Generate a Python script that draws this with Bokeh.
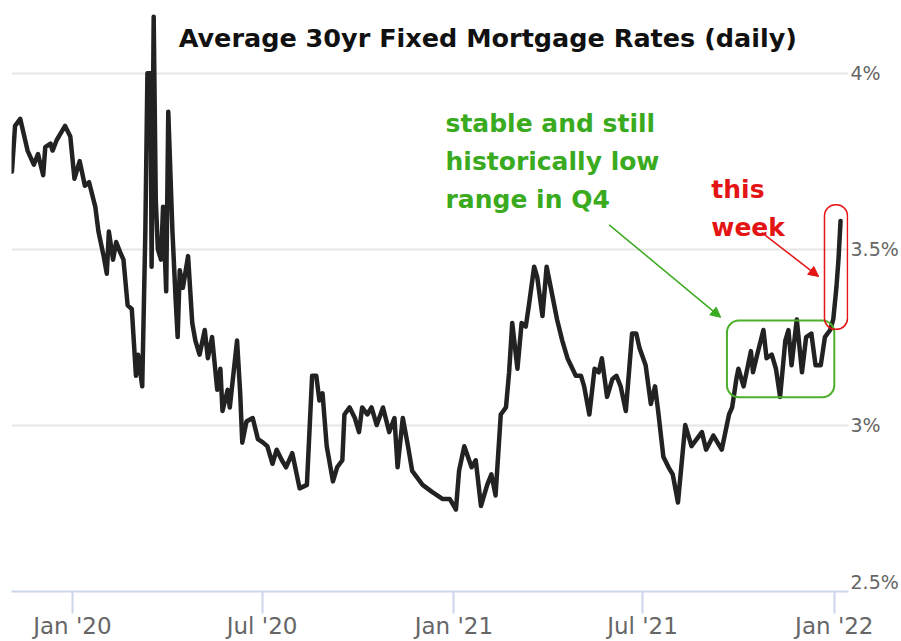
import pandas as pd
from bokeh.plotting import figure
from bokeh.models import (FixedTicker, Label, BoxAnnotation, Arrow, NormalHead,
                          Range1d, ColumnDataSource)
from bokeh.embed import file_html
from bokeh.resources import INLINE

# ---- data ----
dates = [
    "2019-11-04", "2019-11-07", "2019-11-12", "2019-11-19", "2019-11-25", "2019-11-29",
    "2019-12-04", "2019-12-06", "2019-12-11", "2019-12-13", "2019-12-17", "2019-12-21",
    "2019-12-25", "2019-12-30", "2020-01-03", "2020-01-08", "2020-01-13", "2020-01-17",
    "2020-01-23", "2020-01-26", "2020-01-31", "2020-02-03", "2020-02-05", "2020-02-09",
    "2020-02-12", "2020-02-16", "2020-02-19", "2020-02-23", "2020-02-27", "2020-03-02",
    "2020-03-04", "2020-03-08", "2020-03-11", "2020-03-13", "2020-03-16", "2020-03-17",
    "2020-03-19", "2020-03-21", "2020-03-23", "2020-03-26", "2020-03-28", "2020-03-31",
    "2020-04-02", "2020-04-06", "2020-04-09", "2020-04-11", "2020-04-13", "2020-04-16",
    "2020-04-21", "2020-04-25", "2020-04-28", "2020-05-02", "2020-05-07", "2020-05-10",
    "2020-05-14", "2020-05-19", "2020-05-22", "2020-05-24", "2020-05-29", "2020-05-31",
    "2020-06-07", "2020-06-10", "2020-06-12", "2020-06-16", "2020-06-22", "2020-06-27",
    "2020-07-02", "2020-07-06", "2020-07-11", "2020-07-15", "2020-07-20", "2020-07-24",
    "2020-07-30", "2020-08-06", "2020-08-13", "2020-08-18", "2020-08-22", "2020-08-25",
    "2020-08-28", "2020-09-01", "2020-09-07", "2020-09-11", "2020-09-16", "2020-09-18",
    "2020-09-23", "2020-09-28", "2020-10-02", "2020-10-05", "2020-10-10", "2020-10-14",
    "2020-10-19", "2020-10-25", "2020-10-31", "2020-11-05", "2020-11-08", "2020-11-13",
    "2020-11-18", "2020-11-22", "2020-12-02", "2020-12-11", "2020-12-21", "2020-12-28",
    "2021-01-03", "2021-01-06", "2021-01-11", "2021-01-18", "2021-01-22", "2021-01-27",
    "2021-02-02", "2021-02-06", "2021-02-10", "2021-02-15", "2021-02-20", "2021-02-23",
    "2021-02-26", "2021-03-03", "2021-03-07", "2021-03-11", "2021-03-14", "2021-03-19",
    "2021-03-22", "2021-03-27", "2021-03-31", "2021-04-04", "2021-04-10", "2021-04-15",
    "2021-04-20", "2021-04-28", "2021-05-03", "2021-05-06", "2021-05-11", "2021-05-16",
    "2021-05-20", "2021-05-23", "2021-05-28", "2021-06-02", "2021-06-06", "2021-06-10",
    "2021-06-15", "2021-06-21", "2021-06-25", "2021-06-28", "2021-07-04", "2021-07-09",
    "2021-07-13", "2021-07-16", "2021-07-21", "2021-07-26", "2021-07-30", "2021-08-04",
    "2021-08-11", "2021-08-17", "2021-08-22", "2021-08-27", "2021-08-31", "2021-09-07",
    "2021-09-15", "2021-09-22", "2021-09-25", "2021-09-29", "2021-10-01", "2021-10-06",
    "2021-10-13", "2021-10-15", "2021-10-19", "2021-10-25", "2021-10-28", "2021-11-02",
    "2021-11-06", "2021-11-10", "2021-11-15", "2021-11-18", "2021-11-21", "2021-11-26",
    "2021-12-01", "2021-12-05", "2021-12-10", "2021-12-14", "2021-12-19", "2021-12-23",
    "2021-12-28", "2021-12-31", "2022-01-03", "2022-01-05", "2022-01-07",
]
rates = [
    3.72, 3.85, 3.87, 3.78, 3.74, 3.77,
    3.71, 3.79, 3.80, 3.78, 3.81, 3.83,
    3.85, 3.82, 3.70, 3.75, 3.68, 3.69,
    3.62, 3.55, 3.48, 3.43, 3.55, 3.47,
    3.52, 3.49, 3.47, 3.34, 3.33, 3.14,
    3.20, 3.11, 3.55, 4.00, 4.00, 3.45,
    4.16, 3.64, 3.50, 3.47, 3.62, 3.38,
    3.89, 3.55, 3.36, 3.25, 3.44, 3.39,
    3.48, 3.29, 3.24, 3.20, 3.27, 3.19,
    3.25, 3.10, 3.16, 3.04, 3.10, 3.05,
    3.24, 3.09, 2.95, 3.01, 3.02, 2.96,
    2.95, 2.94, 2.89, 2.93, 2.90, 2.88,
    2.92, 2.82, 2.83, 3.14, 3.14, 3.07,
    3.09, 2.94, 2.84, 2.88, 2.90, 3.03,
    3.05, 3.02, 2.98, 3.05, 3.03, 3.05,
    3.00, 3.05, 2.98, 3.02, 2.88, 3.02,
    2.94, 2.87, 2.83, 2.81, 2.79, 2.79,
    2.76, 2.87, 2.94, 2.88, 2.90, 2.77,
    2.83, 2.86, 2.80, 3.03, 3.05, 3.15,
    3.29, 3.16, 3.29, 3.28, 3.34, 3.45,
    3.42, 3.31, 3.45, 3.39, 3.30, 3.24,
    3.19, 3.14, 3.14, 3.11, 3.03, 3.16,
    3.15, 3.19, 3.08, 3.13, 3.14, 3.11,
    3.04, 3.26, 3.26, 3.22, 3.17, 3.06,
    3.11, 3.04, 2.91, 2.88, 2.86, 2.78,
    3.00, 2.94, 2.96, 2.98, 2.93, 2.97,
    2.93, 3.03, 3.05, 3.13, 3.16, 3.11,
    3.21, 3.15, 3.20, 3.27, 3.19, 3.20,
    3.16, 3.08, 3.24, 3.27, 3.17, 3.30,
    3.15, 3.25, 3.26, 3.17, 3.17, 3.25,
    3.27, 3.30, 3.39, 3.47, 3.58,
]

x_tick_dates = ["2020-01-01", "2020-07-01", "2021-01-01", "2021-07-01", "2022-01-01"]
x_tick_labels = ["Jan '20", "Jul '20", "Jan '21", "Jul '21", "Jan '22"]
y_ticks = [2.5, 3.0, 3.5, 4.0]
y_tick_labels = ["2.5%", "3%", "3.5%", "4%"]

title_text = "Average 30yr Fixed Mortgage Rates (daily)"
green_lines = ["stable and still", "historically low", "range in Q4"]
red_lines = ["this", "week"]


def ms(s):
    return pd.Timestamp(s).value / 1e6


X_START, X_END = "2019-11-03 14:00", "2022-01-14 15:00"
Y_START, Y_END = 2.527, 4.178
LOW_LABEL_AT = 2.555   # where the lowest tick label is drawn (its own level is below the frame)

GREEN = "#3aaa1e"
RED = "#e41414"
FONT = "DejaVu Sans"

p = figure(width=901, height=641, x_axis_type="datetime", y_axis_location="right",
           x_range=Range1d(ms(X_START), ms(X_END)), y_range=Range1d(Y_START, Y_END),
           output_backend="svg", toolbar_location=None,
           min_border_left=11, min_border_top=10, min_border_right=51, min_border_bottom=48)
p.outline_line_color = None
p.background_fill_color = "white"
p.border_fill_color = "white"

src = ColumnDataSource(dict(date=pd.to_datetime(dates), rate=rates))
p.line("date", "rate", source=src, line_color="#222222", line_width=4.5,
       line_join="round", line_cap="round")

# x axis
p.xaxis.ticker = FixedTicker(ticks=[ms(d) for d in x_tick_dates])
p.xaxis.major_label_overrides = {ms(d): l for d, l in zip(x_tick_dates, x_tick_labels)}
p.xaxis.axis_line_color = "#ccd6eb"
p.xaxis.axis_line_width = 2
p.xaxis.major_tick_line_color = "#ccd6eb"
p.xaxis.major_tick_line_width = 2
p.xaxis.major_tick_out = 22
p.xaxis.major_tick_in = 0
p.xaxis.minor_tick_line_color = None
p.xaxis.major_label_standoff = -1
p.xaxis.major_label_text_font = FONT
p.xaxis.major_label_text_font_size = "23px"
p.xaxis.major_label_text_color = "#666666"

# y axis (right)
axis_ticks = [t if t >= Y_START else LOW_LABEL_AT for t in y_ticks]
p.yaxis.ticker = FixedTicker(ticks=axis_ticks)
p.yaxis.major_label_overrides = dict(zip(axis_ticks, y_tick_labels))
p.yaxis.axis_line_color = None
p.yaxis.major_tick_line_color = None
p.yaxis.minor_tick_line_color = None
p.yaxis.major_tick_out = 0
p.yaxis.major_tick_in = 0
p.yaxis.major_label_standoff = 2
p.yaxis.major_label_text_font = FONT
p.yaxis.major_label_text_font_size = "19px"
p.yaxis.major_label_text_color = "#666666"

p.xgrid.visible = False
p.ygrid.ticker = FixedTicker(ticks=[t for t in y_ticks if t >= Y_START])
p.ygrid.grid_line_color = "#e6e6e6"
p.ygrid.grid_line_width = 2

# title inside the plot
p.add_layout(Label(x=ms("2021-02-02 14:00"), y=4.099, text=title_text, text_align="center",
                   text_baseline="alphabetic", text_font=FONT, text_font_style="bold",
                   text_font_size="25.5px", text_color="#111111"))

# annotations
for i, line in enumerate(green_lines):
    p.add_layout(Label(x=ms("2020-12-24"), y=3.858 - i * 0.109, text=line, text_align="left",
                       text_baseline="alphabetic", text_font=FONT, text_font_style="bold",
                       text_font_size="25px", text_color=GREEN))
for i, line in enumerate(red_lines):
    p.add_layout(Label(x=ms("2021-09-05"), y=3.669 - i * 0.108, text=line, text_align="left",
                       text_baseline="alphabetic", text_font=FONT, text_font_style="bold",
                       text_font_size="25px", text_color=RED))

p.add_layout(BoxAnnotation(left=ms("2021-09-20"), right=ms("2022-01-01"), top=3.297, bottom=3.079,
                           fill_alpha=0, line_color="#4cb02a", line_alpha=1, line_width=2,
                           border_radius=12))
p.add_layout(BoxAnnotation(left=ms("2021-12-22 14:00"), right=ms("2022-01-13 16:00"), top=3.626,
                           bottom=3.272, fill_alpha=0, line_color=RED, line_alpha=1, line_width=1.5,
                           border_radius=11))

p.add_layout(Arrow(end=NormalHead(size=10, fill_color=GREEN, line_color=GREEN),
                   x_start=ms("2021-05-30"), y_start=3.569, x_end=ms("2021-09-14"), y_end=3.306,
                   line_color=GREEN, line_width=1.5))
p.add_layout(Arrow(end=NormalHead(size=10, fill_color=RED, line_color=RED),
                   x_start=ms("2021-10-23 10:00"), y_start=3.547, x_end=ms("2021-12-17"), y_end=3.422,
                   line_color=RED, line_width=1.5))

open("out.html", "w").write(file_html(p, INLINE))
